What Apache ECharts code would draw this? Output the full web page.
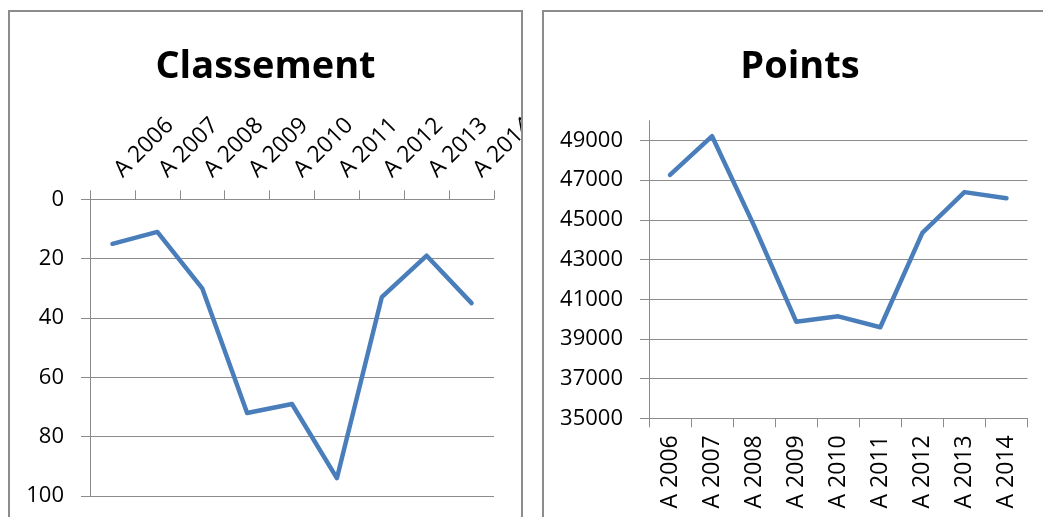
<!DOCTYPE html>
<html>
<head>
<meta charset="utf-8">
<script src="https://cdn.jsdelivr.net/npm/echarts@6/dist/echarts.min.js"></script>
<style>
  html, body { margin: 0; padding: 0; background: #fff; width: 1043px; height: 517px; overflow: hidden; }
  .frame { position: absolute; border: 2px solid #8c8c8c; background: #fff; overflow: hidden; }
  #left { left: 8px; top: 10px; width: 511px; height: 520px; }
  #right { left: 542px; top: 10px; width: 520px; height: 520px; }
  .chart { width: 100%; height: 100%; }
</style>
</head>
<body>
<div class="frame" id="left"><div class="chart" id="c1"></div></div>
<div class="frame" id="right"><div class="chart" id="c2"></div></div>
<script>
const categories = ['A 2006', 'A 2007', 'A 2008', 'A 2009', 'A 2010', 'A 2011', 'A 2012', 'A 2013', 'A 2014'];
const classement = [15, 11, 30, 72, 69, 94, 33, 19, 35];
const points = [47270, 49220, 44700, 39870, 40140, 39590, 44350, 46400, 46090];
const pointTicks = [35000, 37000, 39000, 41000, 43000, 45000, 47000, 49000];

const FONT = 'Open Sans';
const GRAY = '#8c8c8c';
const LINE = '#4a7ebb';

const c1 = echarts.init(document.getElementById('c1'));
c1.setOption({
  animation: false,
  title: {
    text: 'Classement', left: 'center', top: 31,
    textStyle: { fontFamily: FONT, fontSize: 38, fontWeight: 'bold', color: '#000' }
  },
  grid: { left: 80, top: 187.3, width: 404, height: 296.7, containLabel: false, outerBoundsMode: 'none' },
  xAxis: {
    type: 'category', data: categories, position: 'top', boundaryGap: true,
    axisLine: { show: true, lineStyle: { color: GRAY, width: 1 } },
    axisTick: { show: true, interval: 0, length: 9, lineStyle: { color: GRAY } },
    axisLabel: { interval: 0, rotate: 45, margin: 20, padding: [0, 0, 0, 8], fontFamily: FONT, fontSize: 23, color: '#000', hideOverlap: false },
    splitLine: { show: false }
  },
  yAxis: {
    type: 'value', inverse: true, min: 0, max: 100, interval: 20,
    axisLine: { show: true, lineStyle: { color: GRAY, width: 1 } },
    axisTick: { show: true, length: 9, lineStyle: { color: GRAY } },
    axisLabel: { margin: 26, fontFamily: FONT, fontSize: 22, color: '#000' },
    splitLine: { show: true, lineStyle: { color: GRAY, width: 1 } }
  },
  series: [{
    type: 'line', data: classement, showSymbol: false, symbol: 'none',
    lineStyle: { color: LINE, width: 4.5, join: 'round', cap: 'round' }
  }]
});

const c2 = echarts.init(document.getElementById('c2'));
c2.setOption({
  animation: false,
  title: {
    text: 'Points', left: 251, textAlign: 'center', top: 31,
    textStyle: { fontFamily: FONT, fontSize: 38, fontWeight: 'bold', color: '#000' }
  },
  grid: { left: 105, top: 108.7, width: 378.5, height: 297.6, containLabel: false, outerBoundsMode: 'none' },
  xAxis: {
    type: 'category', data: categories, boundaryGap: true,
    axisLine: { show: true, lineStyle: { color: GRAY, width: 1 } },
    axisTick: { show: true, interval: 0, length: 9, lineStyle: { color: GRAY } },
    axisLabel: { interval: 0, rotate: 90, margin: 17, fontFamily: FONT, fontSize: 23, color: '#000' },
    splitLine: { show: false }
  },
  yAxis: {
    type: 'value', min: 35000, max: 50000, interval: 2000,
    axisLine: { show: true, lineStyle: { color: GRAY, width: 1 } },
    axisTick: { show: true, length: 9, lineStyle: { color: GRAY }, customValues: pointTicks },
    axisLabel: { margin: 26, fontFamily: FONT, fontSize: 22, color: '#000', customValues: pointTicks, formatter: function (v) { return String(v); } },
    splitLine: { show: true, lineStyle: { color: GRAY, width: 1 } }
  },
  series: [{
    type: 'line', data: points, showSymbol: false, symbol: 'none',
    lineStyle: { color: LINE, width: 4.5, join: 'round', cap: 'round' }
  }]
});
</script>
</body>
</html>
